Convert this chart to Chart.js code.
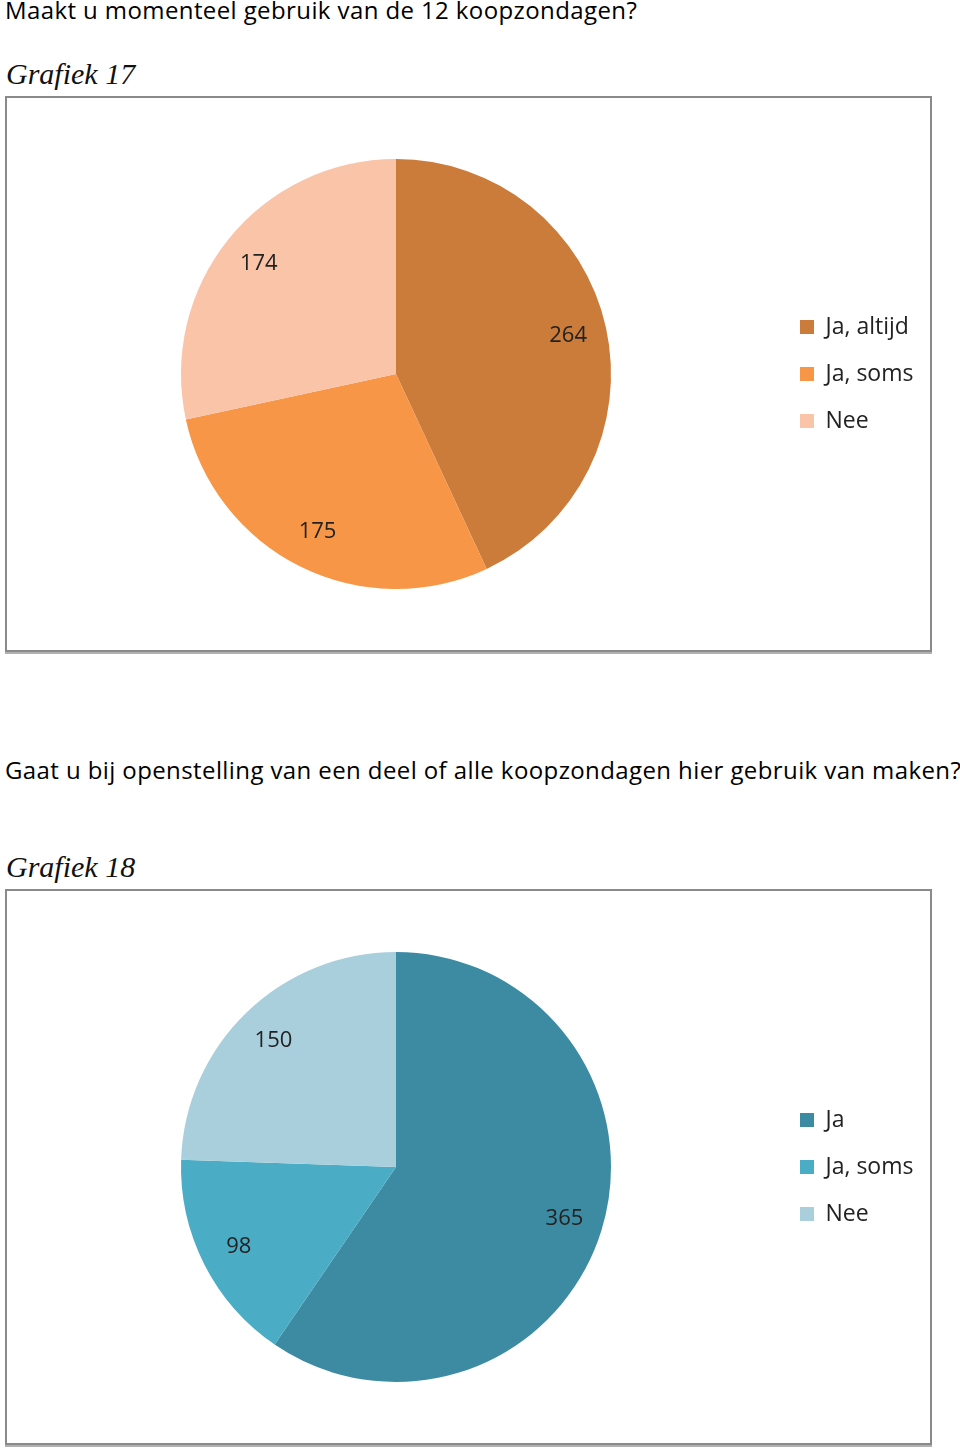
<!DOCTYPE html>
<html>
<head>
<meta charset="utf-8">
<script src="https://cdn.jsdelivr.net/npm/chart.js@4.4.1/dist/chart.umd.min.js"></script>
<style>
    body { margin: 0; width: 960px; height: 1450px; position: relative; background: #fff; font-family: "Open Sans", Lato, sans-serif; }
    .vraag { position: absolute; left: 5px; margin: 0; font-size: 24px; letter-spacing: 0.4px; font-weight: normal; color: #000; white-space: nowrap; }
    .grafiek { position: absolute; left: 6px; margin: 0; font-family: "Liberation Serif", serif; font-style: italic; font-weight: normal; font-size: 30px; color: #111; }
    .kader { position: absolute; left: 5px; width: 923px; height: 552px; border: 2px solid #8a8a8a; box-shadow: 0 2px 0 #b0b0b0; }
    canvas { position: absolute; left: 16px; }
</style>
</head>
<body>

<h1 class="vraag" style="top:-7px">Maakt u momenteel gebruik van de 12 koopzondagen?</h1>
<h2 class="grafiek" style="top:57px">Grafiek 17</h2>
<div class="kader" style="top:96px"></div>
<canvas id="grafiek17" width="900" height="552" style="top:98px"></canvas>

<h1 class="vraag" style="top:753px">Gaat u bij openstelling van een deel of alle koopzondagen hier gebruik van maken?</h1>
<h2 class="grafiek" style="top:850px">Grafiek 18</h2>
<div class="kader" style="top:889px"></div>
<canvas id="grafiek18" width="900" height="552" style="top:891px"></canvas>

<script>
"use strict";

// grafiek 17
const labels17 = ['Ja, altijd', 'Ja, soms', 'Nee'];
const waarden17 = [264, 175, 174];
const kleuren17 = ['#CB7B3A', '#F79646', '#F9C4A8'];

// grafiek 18
const labels18 = ['Ja', 'Ja, soms', 'Nee'];
const waarden18 = [365, 98, 150];
const kleuren18 = ['#3D8BA3', '#4BACC6', '#A9CEDC'];

const legendaLinks = 760;   // linkerkant van de legenda (canvas-coördinaten)

// getallen in de taartpunten zetten
const waardenLabels = {
    id: 'waardenLabels',
    afterDatasetsDraw(chart) {
        const ctx = chart.ctx;
        const meta = chart.getDatasetMeta(0);
        ctx.save();
        ctx.font = '22px "Open Sans"';
        ctx.fillStyle = '#222';
        ctx.textAlign = 'center';
        ctx.textBaseline = 'middle';
        meta.data.forEach(function (arc, i) {
            const p = arc.getProps(['x', 'y', 'startAngle', 'endAngle', 'outerRadius'], true);
            const mid = (p.startAngle + p.endAngle) / 2;
            const r = p.outerRadius * 0.82;
            ctx.fillText(chart.data.datasets[0].data[i], p.x + Math.cos(mid) * r, p.y + Math.sin(mid) * r);
        });
        ctx.restore();
    }
};

function maakTaart(id, labels, waarden, kleuren) {
    const chart = new Chart(document.getElementById(id), {
        type: 'pie',
        data: {
            labels: labels,
            datasets: [{
                data: waarden,
                backgroundColor: kleuren,
                borderWidth: 0
            }]
        },
        options: {
            responsive: false,
            animation: false,
            layout: {
                padding: { left: 0, right: 0, top: 61, bottom: 61 }
            },
            plugins: {
                legend: {
                    position: 'right',
                    align: 'center',
                    labels: {
                        boxWidth: 14,
                        boxHeight: 14,
                        padding: 24,
                        color: '#222',
                        font: { family: 'Open Sans', size: 23 }
                    }
                },
                tooltip: { enabled: false }
            }
        },
        plugins: [waardenLabels]
    });
    // legenda op de juiste plek schuiven, zodat de taart goed gecentreerd staat
    const rechts = chart.width - legendaLinks - chart.legend.width;
    chart.options.layout.padding.right = rechts;
    chart.update();
    return chart;
}

maakTaart('grafiek17', labels17, waarden17, kleuren17);
maakTaart('grafiek18', labels18, waarden18, kleuren18);
</script>
</body>
</html>
